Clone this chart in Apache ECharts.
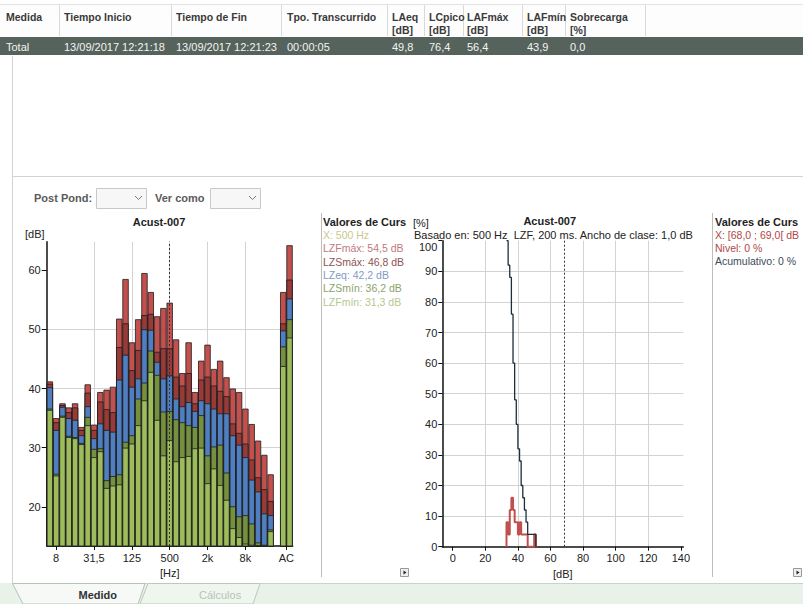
<!DOCTYPE html>
<html><head><meta charset="utf-8">
<script src="https://cdn.jsdelivr.net/npm/echarts@6/dist/echarts.min.js"></script>
<style>html,body{margin:0;padding:0;background:#fff;overflow:hidden}#c{width:803px;height:604px}</style>
</head><body><div id="c"></div>
<script>
// ---------- data ----------
const bandLabels = ['6,3','8','10','12,5','16','20','25','31,5','40','50','63','80','100','125','160','200','250','315','400','500','630','800','1k','1,25k','1,6k','2k','2,5k','3,15k','4k','5k','6,3k','8k','10k','12,5k','16k','20k'];
const broadbandLabels = ['A','C'];
const lzfMax = [41.2,35.0,37.5,36.8,37.5,33.5,40.7,33.9,39.4,39.8,40.3,51.8,58.5,47.8,51.7,59.5,56.3,52.2,53.6,54.5,48.3,42.6,47.8,39.4,44.7,47.4,43.3,44.7,41.9,40.0,39.4,36.6,34.0,31.2,28.8,25.5,56.3,64.2];
const lzsMax = [40.8,34.3,37.2,36.0,36.8,33.0,39.3,33.0,37.8,36.5,36.0,47.0,51.0,43.1,46.5,52.4,52.6,46.2,46.8,46.8,42.0,40.5,42.6,37.5,41.5,42.0,40.5,39.6,38.7,34.1,32.5,30.7,28.0,25.0,23.0,21.0,51.0,58.4];
const lzEq   = [40.2,33.0,36.9,35.0,34.7,32.1,37.0,31.6,34.1,33.0,32.7,41.5,45.7,40.3,41.7,50.0,49.9,44.5,41.7,42.2,38.3,37.0,37.7,36.2,38.0,37.5,36.6,35.8,35.8,32.1,30.5,28.4,24.6,22.6,18.9,18.6,49.8,55.2];
const lzsMin = [36.6,25.6,35.4,32.0,31.8,30.8,35.2,29.8,29.9,24.5,25.2,25.5,31.0,32.1,38.3,41.0,46.4,42.3,36.1,36.2,34.8,34.3,33.8,33.5,35.5,28.7,30.2,30.5,25.8,20.1,18.4,18.6,17.2,14.0,13.6,16.2,47.1,51.7];
const lzfMin = [36.4,25.3,35.2,31.8,31.6,30.6,33.8,28.4,29.4,23.2,23.6,23.8,30.0,30.7,33.8,38.0,42.8,34.7,28.7,31.3,27.7,28.4,28.6,29.9,30.0,24.0,26.5,23.7,21.2,16.4,14.9,13.8,13.6,13.5,13.4,15.9,43.8,48.6];
const hzTickCats = ['8','31,5','125','500','2k','8k'];
const dbTicks = [20,30,40,50,60];
const cursorBand = '500';

const levelBins = [33,34,35,36,37,38,39,40,41,42,43,44,45,46,47,48,49,50];
const nivelPct  = [8,4,12,16,12,8,8,4,8,4,4,4,4,0,0,0,0,4];
const acumPct   = [100,92,88,76,60,48,40,32,28,20,16,12,8,4,4,4,4,4];
const levelTicks = [0,20,40,60,80,100,120,140];
const cursorLevel = 68.5;

// ---------- build ----------
const F = '"Liberation Sans", Arial, sans-serif';
const nB = bandLabels.length;
const cats = bandLabels.concat([''], broadbandLabels);
const withGap = a => a.slice(0, nB).concat([null], a.slice(nB));
const hzTickPos = hzTickCats.map(c => cats.indexOf(c)).concat([(cats.indexOf('A') + cats.indexOf('C')) / 2]);
const hzTickText = hzTickCats.concat(['AC']);

const G = [];
function T(x, y, text, o) { o = o || {}; G.push({type:'text', x:x, y:y, z:20, silent:true, style:{text:text, fill:o.c || '#333', font:(o.b ? 'bold ' : '') + (o.s || 11) + 'px ' + F, align:o.a || 'left', verticalAlign:'middle'}}); }
function L(x1, y1, x2, y2, c, w) { G.push({type:'line', z:5, silent:true, shape:{x1:x1, y1:y1, x2:x2, y2:y2}, style:{stroke:c || '#ccc', lineWidth:w || 1}}); }
function R(x, y, w, h, fill, stroke) { G.push({type:'rect', z:1, silent:true, shape:{x:x, y:y, width:w, height:h}, style:{fill:fill || 'none', stroke:stroke || null, lineWidth:1}}); }
function P(pts, fill, stroke, closed) { G.push({type: closed === false ? 'polyline' : 'polygon', z:6, silent:true, shape:{points:pts}, style:{fill:closed === false ? 'none' : fill, stroke:stroke || null, lineWidth:1}}); }

// table
R(0, 4, 803, 32, '#fdfdfd', null);
L(0, 4.5, 803, 4.5, '#e2e2e2');
[59, 171, 281, 387, 424, 463, 522, 565, 645].forEach(x => L(x + 0.5, 5, x + 0.5, 36, '#d9d9d9'));
R(0, 37, 803, 18, '#56625c', null);
const hx = [6, 64, 176, 287, 392, 429, 467, 527, 570];
const h1 = ['Medida','Tiempo Inicio','Tiempo de Fin','Tpo. Transcurrido','LAeq','LCpico','LAFmáx','LAFmín','Sobrecarga'];
const h2 = ['','','','','[dB]','[dB]','[dB]','[dB]','[%]'];
const rowVals = ['Total','13/09/2017 12:21:18','13/09/2017 12:21:23','00:00:05','49,8','76,4','56,4','43,9','0,0'];
hx.forEach((x, i) => { T(x, 17, h1[i], {b:true, c:'#3a3a3a', s:10.5}); if (h2[i]) T(x, 30, h2[i], {b:true, c:'#3a3a3a', s:10.5}); T(x, 46.5, rowVals[i], {c:'#f4f4f4'}); });
// panels
L(12.5, 56, 12.5, 583, '#d2d2d2');
L(12, 176.5, 803, 176.5, '#d2d2d2');
T(34, 198, 'Post Pond:', {b:true, c:'#5a5a5a'});
R(96.5, 188.5, 50, 20, '#f7f7f7', '#c8c8c8');
P([[135,196],[138.5,199.5],[142,196]], null, '#7a7a7a', false);
T(155, 198, 'Ver como', {b:true, c:'#5a5a5a'});
R(210.5, 188.5, 50, 20, '#f7f7f7', '#c8c8c8');
P([[249,196],[252.5,199.5],[256,196]], null, '#7a7a7a', false);
T(159, 221.5, 'Acust-007', {b:true, c:'#222', a:'center'});
T(25, 234, '[dB]', {c:'#222'});
L(321.5, 213, 321.5, 577, '#bdbdbd');
L(712.5, 213, 712.5, 577, '#bdbdbd');
T(323, 222, 'Valores de Curs', {b:true, c:'#222'});
const curTxt = ['X: 500 Hz','LZFmáx: 54,5 dB','LZSmáx: 46,8 dB','LZeq: 42,2 dB','LZSmín: 36,2 dB','LZFmín: 31,3 dB'];
const curCol = ['#c9c98c','#c07a7a','#8e5454','#7f9cc4','#8aa36b','#b4c98e'];
curTxt.forEach((t, i) => T(323, 235 + i * 13.3, t, {c:curCol[i], s:10.5}));
T(549.7, 221, 'Acust-007', {b:true, c:'#222', a:'center'});
T(414, 234.5, 'Basado en: 500 Hz  LZF, 200 ms. Ancho de clase: 1,0 dB', {c:'#222'});
T(413, 222.5, '[%]', {c:'#222'});
T(715, 222, 'Valores de Curs', {b:true, c:'#222'});
T(715, 235, 'X: [68,0 ; 69,0[ dB', {c:'#b04848', s:10.5});
T(715, 248, 'Nivel: 0 %', {c:'#b04848', s:10.5});
T(715, 260.5, 'Acumulativo: 0 %', {c:'#3d4b58', s:10.5});
// scroll buttons
[400, 793].forEach(x => { R(x + 0.5, 568.5, 8, 8, '#efefef', '#9a9a9a'); P([[x+3.5,570.5],[x+6.5,572.5],[x+3.5,574.5]], '#222', null); });
// tabs
R(0, 583, 803, 21, '#e8f2e8', null);
L(12, 583.5, 803, 583.5, '#c9d4c9');
P([[140,604],[148,583.5],[260,583.5],[253,604]], '#eef6ee', '#bcc8bc');
P([[12.5,583.5],[23,604],[138,604],[145,583.5]], '#f6f9f6', '#b6c2b6');
T(78.5, 595, 'Medido', {b:true, c:'#333'});
T(199, 595, 'Cálculos', {c:'#b9c2b9'});

const axLine = {show:true, onZero:false, lineStyle:{color:'#111', width:1.5}};
const lbl = {color:'#222', fontSize:11, fontFamily:F};
const grid = {color:'#d3d3d3', width:1};
const barSeries = (name, data, color) => ({
  type:'bar', name:name, xAxisIndex:0, yAxisIndex:0, data:withGap(data),
  barGap:'-100%', barCategoryGap:'0%', silent:true, emphasis:{disabled:true},
  itemStyle:{color:color, borderColor:'#1c1c1c', borderWidth:0.8}
});

const series = [
  barSeries('LZFmáx', lzfMax, '#c4504d'),
  barSeries('LZSmáx', lzsMax, '#983a38'),
  barSeries('LZeq', lzEq, '#4f7fc0'),
  barSeries('LZSmín', lzsMin, '#759140'),
  Object.assign(barSeries('LZFmín', lzfMin, '#9dbc5c'), {
    markLine:{silent:true, symbol:['none','none'], label:{show:false}, lineStyle:{type:[2,2], color:'#333', width:1}, data:[{xAxis:cursorBand}]}
  }),
  {type:'line', name:'Nivel', xAxisIndex:2, yAxisIndex:1, step:'end', symbol:'none', silent:true,
   data:[[levelBins[0], 0]].concat(levelBins.map((l, i) => [l, nivelPct[i]])).concat([[levelBins[levelBins.length - 1] + 1, 0]]),
   lineStyle:{color:'#c0504d', width:2}},
  {type:'line', name:'Acumulativo', xAxisIndex:2, yAxisIndex:1, step:'end', symbol:'none', silent:true,
   data:levelBins.map((l, i) => [l, acumPct[i]]).concat([[levelBins[levelBins.length - 1] + 1, 0]]),
   lineStyle:{color:'#1d2f3d', width:1.3},
   markLine:{silent:true, symbol:['none','none'], label:{show:false}, lineStyle:{type:[2,2], color:'#333', width:1}, data:[{xAxis:cursorLevel}]}}
];

const option = {
  animation:false,
  textStyle:{fontFamily:F},
  graphic:G,
  grid:[{left:46.7, top:241.7, width:246, height:304.3}, {left:442.3, top:240.7, width:241, height:306}],
  xAxis:[
    {type:'category', gridIndex:0, position:'bottom', data:cats, boundaryGap:true, axisLine:axLine, axisTick:{show:false}, axisLabel:{show:false}, splitLine:{show:false}},
    {type:'value', gridIndex:0, position:'bottom', min:-0.5, max:cats.length - 0.5, axisLine:{show:false},
     axisTick:{show:true, customValues:hzTickPos, length:4, lineStyle:{color:'#111'}},
     axisLabel:Object.assign({customValues:hzTickPos, margin:6, formatter:v => { const k = hzTickPos.findIndex(p => Math.abs(p - v) < 1e-6); return k >= 0 ? hzTickText[k] : ''; }}, lbl),
     splitLine:{show:true, showMinLine:false, showMaxLine:false, lineStyle:grid},
     name:'[Hz]', nameLocation:'middle', nameGap:20, nameTextStyle:lbl},
    {type:'value', gridIndex:1, position:'bottom', min:-6.4, max:141.5, axisLine:axLine,
     axisTick:{show:true, customValues:levelTicks, length:4, lineStyle:{color:'#111'}},
     axisLabel:Object.assign({customValues:levelTicks, margin:6}, lbl),
     splitLine:{show:true, showMinLine:false, showMaxLine:false, lineStyle:grid},
     name:'[dB]', nameLocation:'middle', nameGap:20, nameTextStyle:lbl}
  ],
  yAxis:[
    {type:'value', gridIndex:0, min:13.4, max:64.8, axisLine:axLine,
     axisTick:{show:true, customValues:dbTicks, length:5, lineStyle:{color:'#111'}},
     axisLabel:Object.assign({customValues:dbTicks, margin:6}, lbl),
     splitLine:{show:true, showMinLine:false, showMaxLine:false, lineStyle:grid}},
    {type:'value', gridIndex:1, min:0, max:100, interval:10, axisLine:axLine,
     axisTick:{show:true, length:4, lineStyle:{color:'#111'}},
     axisLabel:Object.assign({margin:5, formatter:v => v === 100 ? '{t|' + v + '}' : String(v),
       rich:{t:{padding:[13,0,0,0], color:'#222', fontSize:11, fontFamily:F}}}, lbl),
     splitLine:{show:true, showMinLine:false, showMaxLine:false, lineStyle:grid}}
  ],
  series:series
};
const chart = echarts.init(document.getElementById('c'), null, {renderer:'svg', width:803, height:604});
chart.setOption(option);
</script>
</body></html>
